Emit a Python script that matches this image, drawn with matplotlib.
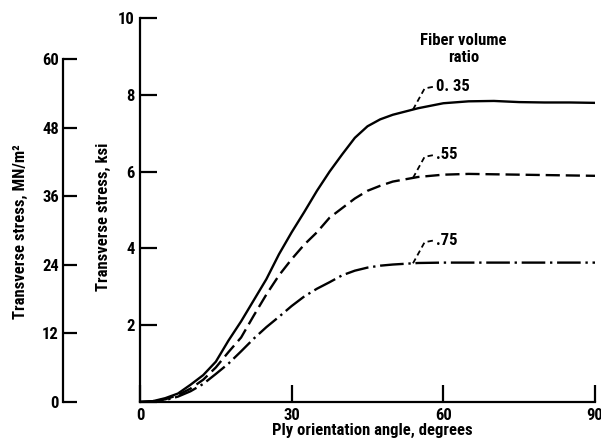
import numpy as np
import matplotlib
matplotlib.use('Agg')
import matplotlib.pyplot as plt

plt.rcParams['font.family'] = ['Roboto Condensed', 'DejaVu Sans']
plt.rcParams['font.weight'] = 'bold'
plt.rcParams['axes.labelweight'] = 'bold'

# Data (transverse stress in ksi vs ply angle in degrees)
angles = [0, 2.5, 5, 7.5, 10, 12.5, 15, 17.5, 20, 22.5, 25, 27.5, 30, 32.5, 35, 37.5, 40,
          42.5, 45, 47.5, 50, 55, 60, 65, 70, 75, 80, 85, 90]
stress_035 = [0, 0.02, 0.1, 0.22, 0.45, 0.7, 1.05, 1.6, 2.1, 2.65, 3.2, 3.85, 4.42, 4.95, 5.5,
              6.0, 6.45, 6.88, 7.18, 7.36, 7.48, 7.65, 7.78, 7.83, 7.84, 7.81, 7.8, 7.8, 7.79]
stress_055 = [0, 0.02, 0.07, 0.18, 0.35, 0.58, 0.9, 1.3, 1.68, 2.25, 2.8, 3.3, 3.72, 4.1, 4.42,
              4.8, 5.05, 5.3, 5.5, 5.63, 5.74, 5.86, 5.92, 5.94, 5.93, 5.92, 5.91, 5.9, 5.89]
stress_075 = [0, 0.01, 0.05, 0.14, 0.28, 0.47, 0.73, 1.0, 1.32, 1.65, 1.95, 2.22, 2.5, 2.75, 2.95,
              3.12, 3.3, 3.42, 3.5, 3.55, 3.58, 3.62, 3.63, 3.63, 3.63, 3.63, 3.63, 3.63, 3.63]
ratio_labels = ['0. 35', '.55', '.75']

x_ticks = [0, 30, 60, 90]
ksi_ticks = [0, 2, 4, 6, 8, 10]
ksi_labels = ['', '2', '4', '6', '8', '10']
mpa_ticks = [0, 12, 24, 36, 48, 60]

W, H = 601, 442
FS = 12
fig = plt.figure(figsize=(W / 100, H / 100), dpi=100)

# main axes (ksi)
ax = fig.add_axes([140 / W, 1 - 402 / H, (595 - 140) / W, (402 - 18) / H])
ax.plot(angles, stress_035, color='black', lw=1.7)
ax.plot(angles, stress_055, color='black', lw=1.7, dashes=(6, 2.5))
ax.plot(angles, stress_075, color='black', lw=1.7, dashes=(10, 2, 1, 2))
ax.set_xlim(0, 90)
ax.set_ylim(0, 10)
for s in ['top', 'right']:
    ax.spines[s].set_visible(False)
for s in ['left', 'bottom']:
    ax.spines[s].set_linewidth(1.6)
ax.set_xticks(x_ticks)
ax.set_xticklabels([str(v) for v in x_ticks])
ax.set_yticks(ksi_ticks)
ax.set_yticklabels(ksi_labels)
ax.tick_params(direction='in', length=12, width=1.6, labelsize=FS, pad=4)
ax.set_xlabel('Ply orientation angle, degrees', fontsize=FS, fontweight='bold', labelpad=0)
ax.xaxis.set_label_coords(0.51, -0.055)

# curve labels with dashed leaders
for ys, lab in zip([stress_035, stress_055, stress_075], ratio_labels):
    x0 = 54
    y0 = np.interp(x0, angles, ys)
    ax.plot([x0, x0 + 2.3, x0 + 4.3], [y0, y0 + 0.55, y0 + 0.6], color='black', lw=1.3, dashes=(3, 2))
    ax.text(x0 + 4.6, y0 + 0.6, lab, fontsize=FS, va='center', ha='left')
ax.text(64, 9.2, 'Fiber volume\nratio', fontsize=FS, ha='center', va='center', linespacing=1.15)

# secondary axis (MN/m^2)
ax2 = fig.add_axes([63 / W, 1 - 402 / H, 0.001, (402 - 59) / H])
ax2.set_ylim(0, 60)
ax2.set_xticks([])
ax2.set_yticks(mpa_ticks)
ax2.set_yticklabels([str(v) for v in mpa_ticks])
ax2.patch.set_visible(False)
for s in ['top', 'right', 'bottom']:
    ax2.spines[s].set_visible(False)
ax2.spines['left'].set_linewidth(1.6)
ax2.tick_params(direction='in', length=10, width=1.6, labelsize=FS, pad=3)

fig.text(103 / W, 1 - 217 / H, 'Transverse stress, ksi', rotation=90, fontsize=FS,
         ha='center', va='center')
fig.text(20 / W, 1 - 232 / H, 'Transverse stress, MN/m²', rotation=90, fontsize=FS,
         ha='center', va='center')

fig.savefig('out.png', dpi=100)
